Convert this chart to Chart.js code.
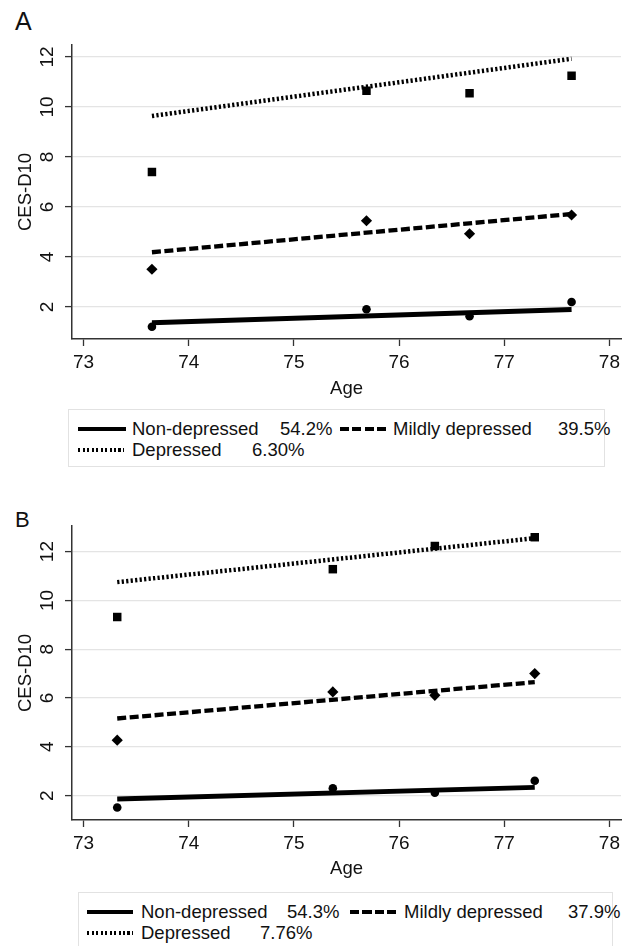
<!DOCTYPE html>
<html>
<head>
<meta charset="utf-8">
<script src="https://cdn.jsdelivr.net/npm/chart.js@4"></script>
<style>
    body { margin: 0; background: #fff; font-family: 'Liberation Sans', Arial, sans-serif; color: #111; }
    #page { position: relative; width: 628px; height: 946px; overflow: hidden; }
    canvas { position: absolute; left: 0; }
    .panel-letter { position: absolute; left: 15px; line-height: 1; }
    .legend-box { position: absolute; border: 1px solid #e2e2e2; box-sizing: border-box; }
    .lg-text { position: absolute; font-size: 18.5px; line-height: 20px; white-space: nowrap; }
    .lg-line { position: absolute; height: 4px; }
</style>
</head>
<body>
<div id="page">
    <div class="panel-letter" style="top: 9px; font-size: 25px;">A</div>
    <canvas id="chartA" width="628" height="400" style="top: 0;"></canvas>
    <div id="legendA"></div>

    <div class="panel-letter" style="top: 509px; font-size: 22px;">B</div>
    <canvas id="chartB" width="628" height="400" style="top: 480px;"></canvas>
    <div id="legendB"></div>
</div>

<script>
const ageTicks = [73, 74, 75, 76, 77, 78];
const cesTicks = [2, 4, 6, 8, 10, 12];
const groups = ['Non-depressed', 'Mildly depressed', 'Depressed'];

// panel A
const sharesA = ['54.2%', '39.5%', '6.30%'];
const agesA = [73.65, 75.69, 76.67, 77.64];
const nonDepA = [1.21, 1.91, 1.63, 2.2];
const mildA = [3.51, 5.45, 4.93, 5.68];
const depA = [7.4, 10.65, 10.55, 11.25];
const fitNonDepA = [1.37, 1.9];
const fitMildA = [4.19, 5.72];
const fitDepA = [9.64, 11.93];

// panel B
const sharesB = ['54.3%', '37.9%', '7.76%'];
const agesB = [73.32, 75.37, 76.34, 77.29];
const nonDepB = [1.51, 2.3, 2.12, 2.61];
const mildB = [4.27, 6.25, 6.11, 7.0];
const depB = [9.32, 11.28, 12.23, 12.59];
const fitNonDepB = [1.86, 2.34];
const fitMildB = [5.16, 6.65];
const fitDepB = [10.75, 12.55];

Chart.defaults.font.family = "'Liberation Sans', Arial, sans-serif";
Chart.defaults.color = '#111';

const lineStyles = [
    { borderWidth: 4.8, borderDash: [] },
    { borderWidth: 4.3, borderDash: [9, 3.5] },
    { borderWidth: 4.5, borderDash: [2.2, 2.3] }
];
const markers = [
    { pointStyle: 'circle', pointRadius: 4.3 },
    { pointStyle: 'rectRot', pointRadius: 5.6 },
    { pointStyle: 'rect', pointRadius: 6 }
];

function toPoints(xs, ys) {
    return ys.map((y, i) => ({ x: xs[i], y: y }));
}

function makePanel(canvasId, ages, series, fits, yMin, yMax, padTop) {
    const ends = [ages[0], ages[ages.length - 1]];
    const datasets = [];

    fits.forEach((fit, i) => {
        datasets.push({
            label: groups[i],
            data: toPoints(ends, fit),
            showLine: true,
            borderColor: '#000',
            borderWidth: lineStyles[i].borderWidth,
            borderDash: lineStyles[i].borderDash,
            borderCapStyle: 'butt',
            pointRadius: 0
        });
    });

    series.forEach((vals, i) => {
        datasets.push({
            label: groups[i] + ' mean',
            data: toPoints(ages, vals),
            showLine: false,
            pointStyle: markers[i].pointStyle,
            pointRadius: markers[i].pointRadius,
            pointBackgroundColor: '#000',
            pointBorderWidth: 0
        });
    });

    return new Chart(document.getElementById(canvasId), {
        type: 'scatter',
        data: { datasets },
        options: {
            responsive: false,
            animation: false,
            devicePixelRatio: 1,
            layout: { padding: { top: padTop, right: 7, left: 0, bottom: 0 } },
            plugins: {
                legend: { display: false },
                tooltip: { enabled: false }
            },
            scales: {
                x: {
                    type: 'linear',
                    min: 72.89,
                    max: 78.11,
                    afterBuildTicks: s => { s.ticks = ageTicks.map(v => ({ value: v })); },
                    afterFit: s => { s.height = 400 - padTop - 294; },
                    grid: { drawOnChartArea: false, tickColor: '#333', tickLength: 7, tickWidth: 1.3 },
                    border: { color: '#333', width: 1.5 },
                    ticks: { font: { size: 19 }, color: '#111', padding: 5, maxRotation: 0, autoSkip: false },
                    title: { display: true, text: 'Age', font: { size: 18.5 }, color: '#111', padding: { top: 0, bottom: 0 } }
                },
                y: {
                    type: 'linear',
                    min: yMin,
                    max: yMax,
                    afterBuildTicks: s => { s.ticks = cesTicks.map(v => ({ value: v })); },
                    afterFit: s => { s.width = 72; },
                    grid: { color: '#e4e4e4', lineWidth: 1.2, tickColor: '#333', tickLength: 7, tickWidth: 1.3 },
                    border: { color: '#333', width: 1.5 },
                    ticks: { font: { size: 19 }, color: '#111', minRotation: 90, maxRotation: 90, crossAlign: 'center', padding: 7, autoSkip: false },
                    title: { display: true, text: 'CES-D10', font: { size: 18.5 }, color: '#111', padding: { top: 15, bottom: 0 } }
                }
            }
        }
    });
}

function makeLegend(holderId, shares, box, rows) {
    const holder = document.getElementById(holderId);
    let html = `<div class="legend-box" style="left:${box.left}px;top:${box.top}px;width:${box.width}px;height:${box.height}px;"></div>`;
    const samples = [
        'background:#000;',
        'background:repeating-linear-gradient(to right,#000 0 9px,transparent 9px 12.5px);',
        'background:repeating-linear-gradient(to right,#000 0 2px,transparent 2px 4.5px);'
    ];
    rows.forEach((r, i) => {
        html += `<div class="lg-line" style="left:${r.line[0]}px;width:${r.line[1] - r.line[0]}px;top:${r.y - 2}px;${samples[i]}"></div>`;
        html += `<div class="lg-text" style="left:${r.name}px;top:${r.y - 10}px;">${groups[i]}</div>`;
        html += `<div class="lg-text" style="left:${r.share}px;top:${r.y - 10}px;">${shares[i]}</div>`;
    });
    holder.innerHTML = html;
}

makePanel('chartA', agesA, [nonDepA, mildA, depA], [fitNonDepA, fitMildA, fitDepA], 0.72, 12.48, 45);
makePanel('chartB', agesB, [nonDepB, mildB, depB], [fitNonDepB, fitMildB, fitDepB], 1.0, 13.05, 46);

makeLegend('legendA', sharesA, { left: 68, top: 409, width: 537, height: 58 }, [
    { line: [78, 126], name: 132, share: 280, y: 429 },
    { line: [340, 387], name: 393, share: 558, y: 429 },
    { line: [78, 124], name: 132, share: 252, y: 449.5 }
]);
makeLegend('legendB', sharesB, { left: 78, top: 892, width: 535, height: 70 }, [
    { line: [87, 133], name: 141, share: 287, y: 912 },
    { line: [350, 398], name: 404, share: 568, y: 912 },
    { line: [87, 133], name: 141, share: 260, y: 933 }
]);
</script>
</body>
</html>
